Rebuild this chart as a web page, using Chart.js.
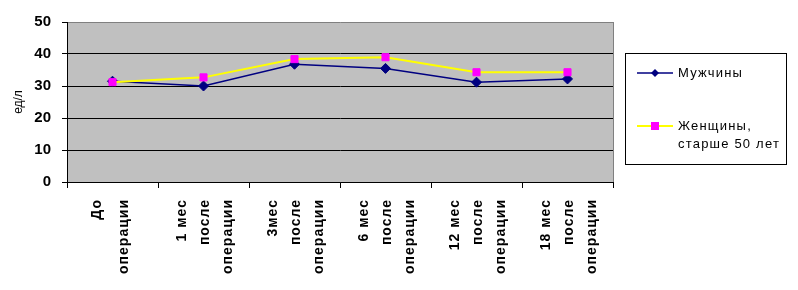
<!DOCTYPE html>
<html lang="ru">
<head>
    <meta charset="utf-8">
    <title>Мужчины / Женщины</title>
    <script src="https://cdn.jsdelivr.net/npm/chart.js"></script>
    <style>
        body { margin: 0; background: #ffffff; }
        #wrap { width: 798px; height: 290px; }
    </style>
</head>
<body>
<div id="wrap"><canvas id="myChart"></canvas></div>
<script>
    // data
    const categories = ['До операции', '1 мес после операции', '3мес после операции',
        '6 мес после операции', '12 мес после операции', '18 мес после операции'];
    const xLabels = [
        ['До', 'операции'],
        ['1 мес', 'после', 'операции'],
        ['3мес', 'после', 'операции'],
        ['6 мес', 'после', 'операции'],
        ['12 мес', 'после', 'операции'],
        ['18 мес', 'после', 'операции']
    ];
    const men = [31.5, 30.0, 36.8, 35.5, 31.2, 32.2];
    const women = [31.2, 32.7, 38.4, 39.0, 34.3, 34.3];
    const yTicks = [0, 10, 20, 30, 40, 50];

    const FONT = "'Liberation Sans', Arial, sans-serif";

    // gray plot background + right border
    const plotBg = {
        id: 'plotBg',
        beforeDraw(chart) {
            const { ctx, chartArea: a } = chart;
            ctx.save();
            ctx.fillStyle = '#c0c0c0';
            ctx.fillRect(a.left, a.top, a.right - a.left, a.bottom - a.top);
            ctx.strokeStyle = '#808080';
            ctx.lineWidth = 1;
            ctx.beginPath();
            ctx.moveTo(Math.round(a.right) + 0.5, a.top);
            ctx.lineTo(Math.round(a.right) + 0.5, a.bottom);
            ctx.stroke();
            ctx.restore();
        }
    };

    // rotated, wrapped category labels
    const xLabelPlugin = {
        id: 'xLabelPlugin',
        afterDraw(chart) {
            const { ctx } = chart;
            const xs = chart.scales.x;
            ctx.save();
            ctx.font = 'bold 14px ' + FONT;
            ctx.letterSpacing = '1px';
            ctx.fillStyle = '#000';
            ctx.textAlign = 'right';
            ctx.textBaseline = 'middle';
            xLabels.forEach((lines, i) => {
                const pos = xs.getPixelForValue(i);
                const n = lines.length;
                const step = n === 2 ? 27 : 23;
                lines.forEach((line, j) => {
                    const x = pos + (n === 2 ? -2 : 2) + (j - (n - 1) / 2) * step;
                    ctx.save();
                    ctx.translate(x, 199);
                    ctx.rotate(-Math.PI / 2);
                    ctx.fillText(line, 0, 0);
                    ctx.restore();
                });
            });
            ctx.restore();
        }
    };

    // boxed legend on the right
    const boxLegend = {
        id: 'boxLegend',
        afterDraw(chart) {
            const { ctx } = chart;
            ctx.save();
            ctx.strokeStyle = '#000';
            ctx.lineWidth = 1;
            ctx.strokeRect(625.5, 53.5, 161, 111);

            const entries = [
                { ds: chart.data.datasets[0], y: 73, text: ['Мужчины'] },
                { ds: chart.data.datasets[1], y: 126, text: ['Женщины,', 'старше 50 лет'] }
            ];
            entries.forEach(e => {
                ctx.strokeStyle = e.ds.borderColor;
                ctx.lineWidth = e.ds.borderWidth;
                ctx.beginPath();
                ctx.moveTo(637, e.y);
                ctx.lineTo(673, e.y);
                ctx.stroke();
                ctx.fillStyle = e.ds.pointBackgroundColor;
                ctx.beginPath();
                if (e.ds.pointStyle === 'rectRot') {
                    const r = 4;
                    ctx.moveTo(655, e.y - r);
                    ctx.lineTo(655 + r, e.y);
                    ctx.lineTo(655, e.y + r);
                    ctx.lineTo(655 - r, e.y);
                    ctx.closePath();
                } else {
                    ctx.rect(651, e.y - 4, 8, 8);
                }
                ctx.fill();

                ctx.fillStyle = '#000';
                ctx.font = '13px ' + FONT;
                ctx.letterSpacing = '1.2px';
                ctx.textAlign = 'left';
                ctx.textBaseline = 'middle';
                e.text.forEach((t, k) => ctx.fillText(t, 678, e.y + k * 18));
            });
            ctx.restore();
        }
    };

    const config = {
        type: 'line',
        data: {
            labels: categories,
            datasets: [{
                label: 'Мужчины',
                data: men,
                borderColor: '#000080',
                borderWidth: 1.5,
                pointStyle: 'rectRot',
                pointRadius: 5,
                pointBackgroundColor: '#000080',
                pointBorderColor: '#000080',
                pointBorderWidth: 1,
                tension: 0,
                order: 1
            }, {
                label: 'Женщины, старше 50 лет',
                data: women,
                borderColor: '#ffff00',
                borderWidth: 2,
                pointStyle: 'rect',
                pointRadius: 5,
                pointBackgroundColor: '#ff00ff',
                pointBorderColor: '#ff00ff',
                pointBorderWidth: 1,
                tension: 0,
                order: 0
            }]
        },
        options: {
            responsive: true,
            maintainAspectRatio: false,
            animation: false,
            layout: { padding: { top: 22, right: 185, left: 0, bottom: 0 } },
            scales: {
                x: {
                    offset: true,
                    afterFit: s => { s.height = 108; },
                    ticks: { display: false },
                    grid: {
                        offset: true,
                        drawOnChartArea: false,
                        drawTicks: true,
                        tickLength: 6,
                        tickColor: '#000'
                    },
                    border: { color: '#000', width: 1 }
                },
                y: {
                    min: 0,
                    max: 50,
                    afterFit: s => { s.width = 67; },
                    afterBuildTicks: s => { s.ticks = yTicks.map(v => ({ value: v })); },
                    ticks: {
                        color: '#000',
                        padding: 11,
                        font: { family: FONT, size: 15, weight: 'bold' }
                    },
                    grid: {
                        color: c => (c.tick && c.tick.value === 50) ? '#808080' : '#000',
                        tickColor: '#000',
                        tickLength: 5,
                        lineWidth: 1
                    },
                    border: { color: '#000', width: 1 },
                    title: {
                        display: true,
                        text: 'ед/л',
                        color: '#000',
                        padding: { top: 11, bottom: 0 },
                        font: { family: FONT, size: 12 }
                    }
                }
            },
            plugins: {
                legend: { display: false },
                tooltip: { enabled: false }
            }
        },
        plugins: [plotBg, xLabelPlugin, boxLegend]
    };

    const myChart = new Chart(document.getElementById('myChart'), config);
</script>
</body>
</html>
